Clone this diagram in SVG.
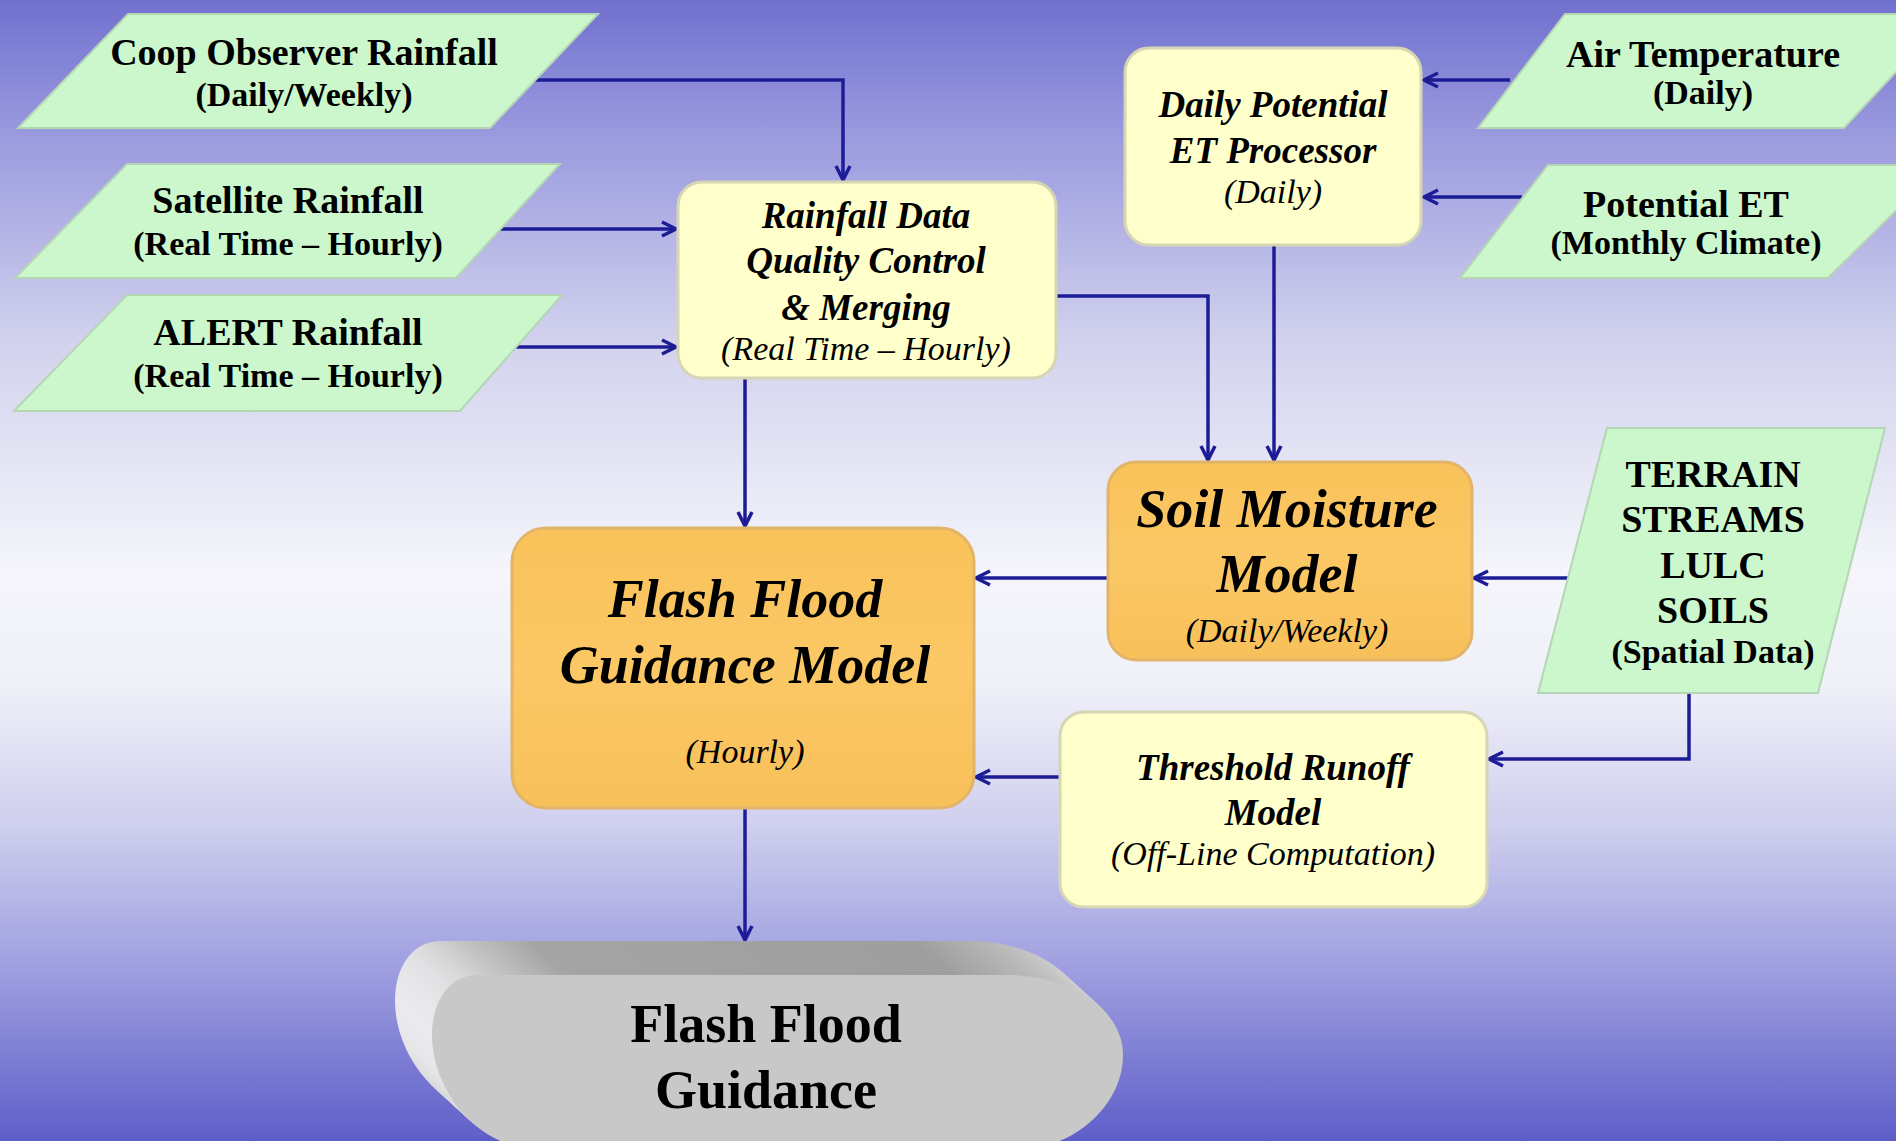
<svg xmlns="http://www.w3.org/2000/svg" width="1896" height="1141" viewBox="0 0 1896 1141">
<defs>
<linearGradient id="bg" x1="0" y1="0" x2="0" y2="1">
<stop offset="0" stop-color="#7070cf"/>
<stop offset="0.1" stop-color="#9494dd"/>
<stop offset="0.3" stop-color="#d2d2ee"/>
<stop offset="0.5" stop-color="#f5f5fb"/>
<stop offset="0.6" stop-color="#f0f0f9"/>
<stop offset="0.72" stop-color="#d0d0ef"/>
<stop offset="0.85" stop-color="#9e9ee0"/>
<stop offset="1" stop-color="#5e5ec9"/>
</linearGradient>
<linearGradient id="orange" x1="0" y1="0" x2="0" y2="1">
<stop offset="0" stop-color="#f9c25a"/>
<stop offset="0.5" stop-color="#fbc865"/>
<stop offset="1" stop-color="#f8c05a"/>
</linearGradient>
<linearGradient id="ext" gradientUnits="userSpaceOnUse" x1="430" y1="0" x2="1125" y2="0">
<stop offset="0" stop-color="#ececf0"/>
<stop offset="0.08" stop-color="#cacaca"/>
<stop offset="0.2" stop-color="#a4a4a4"/>
<stop offset="0.75" stop-color="#9e9e9e"/>
<stop offset="0.88" stop-color="#bcbcbc"/>
<stop offset="1" stop-color="#dadada"/>
</linearGradient>
<path id="pill" d="M 478,975 L 1005,975 C 1075,975 1123,1012 1123,1055 C 1123,1105 1075,1145 1030,1148 L 525,1148 C 470,1140 432,1085 432,1035 C 432,1000 450,975 478,975 Z"/>
<marker id="arr" markerUnits="userSpaceOnUse" markerWidth="22" markerHeight="22" refX="17" refY="11" orient="auto">
<path d="M3,4 L17,11 L3,18" fill="none" stroke="#1c1c96" stroke-width="3.5"/>
</marker>
<style>
.para{fill:#ccf7cc;stroke:#b4d6b4;stroke-width:2}
.ybox{fill:#ffffcc;stroke:#d6d6b4;stroke-width:3}
.obox{fill:url(#orange);stroke:#e2b468;stroke-width:3}
.conn{stroke:#1c1c96;stroke-width:3.5;fill:none;marker-end:url(#arr)}
.ext{fill:url(#ext)}
text{font-family:"Liberation Serif","Times New Roman",serif;fill:#000;text-anchor:middle}
.gt{font-weight:bold;font-size:38px}
.gs{font-weight:bold;font-size:34px}
.yt{font-weight:bold;font-style:italic;font-size:37px}
.ys{font-style:italic;font-size:34px}
.ot{font-weight:bold;font-style:italic;font-size:54px}
.out{font-weight:bold;font-size:54px}
</style>
</defs>
<rect x="0" y="0" width="1896" height="1141" fill="url(#bg)"/>

<g id="connectors">
<polyline class="conn" points="528,80 843,80 843,180"/>
<line class="conn" x1="498" y1="229" x2="676" y2="229"/>
<line class="conn" x1="514" y1="347" x2="676" y2="347"/>
<polyline class="conn" points="1057,296 1208,296 1208,460"/>
<line class="conn" x1="1274" y1="246" x2="1274" y2="460"/>
<line class="conn" x1="1510" y1="80" x2="1424" y2="80"/>
<line class="conn" x1="1522" y1="197" x2="1424" y2="197"/>
<line class="conn" x1="745" y1="379" x2="745" y2="526"/>
<line class="conn" x1="1107" y1="578" x2="976" y2="578"/>
<line class="conn" x1="1568" y1="578" x2="1474" y2="578"/>
<line class="conn" x1="1059" y1="777" x2="976" y2="777"/>
<polyline class="conn" points="1689,693 1689,759 1489,759"/>
<line class="conn" x1="745" y1="809" x2="745" y2="940"/>
</g>

<g id="coop">
<polygon class="para" points="128,14 598,14 490,128 18,128"/>
<text class="gt" x="304" y="65">Coop Observer Rainfall</text>
<text class="gs" x="304" y="106">(Daily/Weekly)</text>
</g>
<g id="satellite">
<polygon class="para" points="127,164 560,164 456,278 15,278"/>
<text class="gt" x="288" y="213">Satellite Rainfall</text>
<text class="gs" x="288" y="255">(Real Time – Hourly)</text>
</g>
<g id="alert">
<polygon class="para" points="127,295 562,295 460,411 14,411"/>
<text class="gt" x="288" y="345">ALERT Rainfall</text>
<text class="gs" x="288" y="387">(Real Time – Hourly)</text>
</g>
<g id="airtemp">
<polygon class="para" points="1565,14 1950,14 1844,128 1478,128"/>
<text class="gt" x="1703" y="67">Air Temperature</text>
<text class="gs" x="1703" y="104">(Daily)</text>
</g>
<g id="potet">
<polygon class="para" points="1548,165 1942,165 1828,278 1460,278"/>
<text class="gt" x="1686" y="217">Potential ET</text>
<text class="gs" x="1686" y="254">(Monthly Climate)</text>
</g>
<g id="terrain">
<polygon class="para" points="1607,428 1885,428 1818,693 1538,693"/>
<text class="gt" x="1713" y="487">TERRAIN</text>
<text class="gt" x="1713" y="532">STREAMS</text>
<text class="gt" x="1713" y="578">LULC</text>
<text class="gt" x="1713" y="623">SOILS</text>
<text class="gs" x="1713" y="663">(Spatial Data)</text>
</g>

<g id="qc">
<rect class="ybox" x="678" y="182" width="378" height="196" rx="24"/>
<text class="yt" x="866" y="228">Rainfall Data</text>
<text class="yt" x="866" y="273">Quality Control</text>
<text class="yt" x="866" y="320">&amp; Merging</text>
<text class="ys" x="866" y="360">(Real Time – Hourly)</text>
</g>
<g id="etproc">
<rect class="ybox" x="1125" y="48" width="296" height="197" rx="24"/>
<text class="yt" x="1273" y="117">Daily Potential</text>
<text class="yt" x="1273" y="163">ET Processor</text>
<text class="ys" x="1273" y="203">(Daily)</text>
</g>
<g id="soil">
<rect class="obox" x="1108" y="462" width="364" height="198" rx="28"/>
<text class="ot" x="1287" y="527">Soil Moisture</text>
<text class="ot" x="1287" y="592">Model</text>
<text class="ys" x="1287" y="642">(Daily/Weekly)</text>
</g>
<g id="ffg">
<rect class="obox" x="512" y="528" width="462" height="280" rx="34"/>
<text class="ot" x="745" y="617">Flash Flood</text>
<text class="ot" x="745" y="683">Guidance Model</text>
<text class="ys" x="745" y="763">(Hourly)</text>
</g>
<g id="threshold">
<rect class="ybox" x="1060" y="712" width="427" height="195" rx="24"/>
<text class="yt" x="1273" y="780">Threshold Runoff</text>
<text class="yt" x="1273" y="825">Model</text>
<text class="ys" x="1273" y="865">(Off-Line Computation)</text>
</g>

<g id="output">
<use href="#pill" class="ext" transform="translate(-37,-34)"/>
<use href="#pill" class="ext" transform="translate(-35,-32)"/>
<use href="#pill" class="ext" transform="translate(-33,-30)"/>
<use href="#pill" class="ext" transform="translate(-31,-28.5)"/>
<use href="#pill" class="ext" transform="translate(-29,-26.5)"/>
<use href="#pill" class="ext" transform="translate(-27,-25)"/>
<use href="#pill" class="ext" transform="translate(-25,-23)"/>
<use href="#pill" class="ext" transform="translate(-23,-21)"/>
<use href="#pill" class="ext" transform="translate(-21,-19.5)"/>
<use href="#pill" class="ext" transform="translate(-19,-17.5)"/>
<use href="#pill" class="ext" transform="translate(-17,-15.5)"/>
<use href="#pill" class="ext" transform="translate(-15,-14)"/>
<use href="#pill" class="ext" transform="translate(-13,-12)"/>
<use href="#pill" class="ext" transform="translate(-11,-10)"/>
<use href="#pill" class="ext" transform="translate(-9,-8.5)"/>
<use href="#pill" class="ext" transform="translate(-7,-6.5)"/>
<use href="#pill" class="ext" transform="translate(-5,-4.5)"/>
<use href="#pill" class="ext" transform="translate(-3,-3)"/>
<use href="#pill" class="ext" transform="translate(-1,-1)"/>
<use href="#pill" fill="#c8c8c8"/>
<text class="out" x="766" y="1042">Flash Flood</text>
<text class="out" x="766" y="1108">Guidance</text>
</g>
</svg>
